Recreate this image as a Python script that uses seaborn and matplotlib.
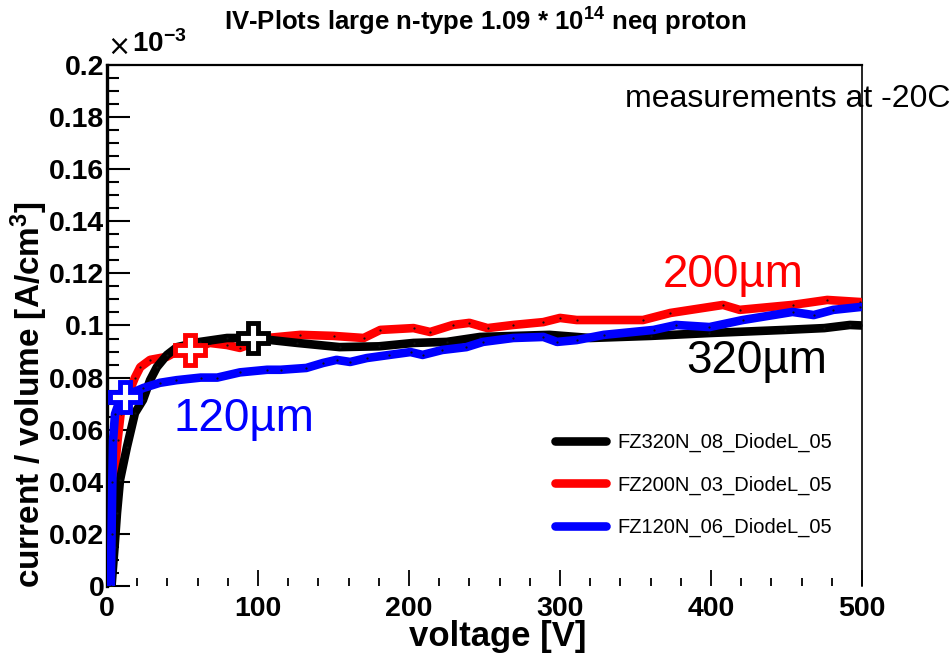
import matplotlib
matplotlib.use("Agg")
import matplotlib.pyplot as plt
from matplotlib.lines import Line2D
from matplotlib.ticker import MultipleLocator, FixedFormatter, FixedLocator
import numpy as np
import pandas as pd
import seaborn as sns

# ---- measured IV data (current / volume in units of 1e-3 A/cm^3) ----
v_320 = [3, 5, 6.6, 8.6, 13.2, 18.5, 23.8, 28.5, 33, 39.7, 46.4, 61.6, 79.5, 96,
         126, 154, 180, 203, 225, 247, 270, 293, 320, 360, 399, 449, 475, 492, 500]
i_320 = [0.0, 0.015, 0.028, 0.0407, 0.0534, 0.0664, 0.0714, 0.079, 0.084, 0.0887,
         0.0917, 0.0937, 0.0952, 0.0952, 0.0933, 0.0917, 0.092, 0.0933, 0.0937,
         0.0956, 0.096, 0.0964, 0.0952, 0.096, 0.0971, 0.0983, 0.099, 0.1002, 0.1]

v_200 = [2, 2.6, 4, 4.6, 7, 9, 12, 15, 18.5, 22, 28.5, 39.7, 46, 55, 68, 79.5, 88,
         106, 128, 150, 170, 181, 203, 214, 229, 240, 252, 269, 289, 300, 311, 355,
         373, 408, 419, 454, 477, 499]
i_200 = [0.0, 0.01, 0.0226, 0.0407, 0.056, 0.066, 0.071, 0.075, 0.080, 0.084,
         0.0868, 0.088, 0.090, 0.0906, 0.0933, 0.0925, 0.0914, 0.0952, 0.0964,
         0.096, 0.0952, 0.0983, 0.099, 0.0975, 0.1002, 0.101, 0.099, 0.1002,
         0.1013, 0.1029, 0.1021, 0.1021, 0.1048, 0.1079, 0.106, 0.1079, 0.1098,
         0.109]

v_120 = [2.5, 3, 3.5, 4, 5.3, 8, 12, 18, 24, 35, 46, 62, 73, 88, 106, 115, 132,
         143, 152, 161, 172, 187, 201, 209, 222, 238, 249, 269, 289, 298, 311, 329,
         362, 377, 399, 421, 454, 468, 481, 499]
i_120 = [0.0, 0.02, 0.04, 0.056, 0.066, 0.0705, 0.0726, 0.0745, 0.076, 0.078,
         0.079, 0.080, 0.080, 0.082, 0.083, 0.083, 0.0837, 0.0856, 0.0868, 0.086,
         0.0875, 0.0887, 0.0898, 0.0887, 0.0906, 0.0917, 0.0937, 0.0952, 0.0956,
         0.0937, 0.0944, 0.0964, 0.0983, 0.1002, 0.0994, 0.1021, 0.1052, 0.104,
         0.106, 0.1071]

sensors = ["FZ320N_08_DiodeL_05", "FZ200N_03_DiodeL_05", "FZ120N_06_DiodeL_05"]
thickness_labels = ["320µm", "200µm", "120µm"]
colors = ["#000000", "#ff0000", "#0000ff"]

# full-depletion markers
dep_v = [96.7, 55, 12]
dep_i = [0.0952, 0.0906, 0.0726]

x_ticks = [0, 100, 200, 300, 400, 500]
y_ticks = [0, 0.02, 0.04, 0.06, 0.08, 0.1, 0.12, 0.14, 0.16, 0.18, 0.2]
y_tick_labels = ["0", "0.02", "0.04", "0.06", "0.08", "0.1", "0.12", "0.14",
                 "0.16", "0.18", "0.2"]

df = pd.concat([
    pd.DataFrame({"voltage": v_320, "current": i_320, "sensor": sensors[0]}),
    pd.DataFrame({"voltage": v_200, "current": i_200, "sensor": sensors[1]}),
    pd.DataFrame({"voltage": v_120, "current": i_120, "sensor": sensors[2]}),
], ignore_index=True)

sns.set_style("ticks")
plt.rcParams["font.family"] = ["Liberation Sans", "DejaVu Sans"]
plt.rcParams["mathtext.fontset"] = "custom"
plt.rcParams["mathtext.rm"] = "Liberation Sans"
plt.rcParams["mathtext.bf"] = "Liberation Sans:bold"
plt.rcParams["mathtext.it"] = "Liberation Sans:italic"
for key in ["text.color", "axes.labelcolor", "xtick.color", "ytick.color",
            "axes.edgecolor"]:
    plt.rcParams[key] = "black"

fig = plt.figure(figsize=(9.53, 6.53), dpi=100)
ax = fig.add_axes([0.1123, 0.1026, 0.7922, 0.7979])

palette = dict(zip(sensors, colors))
# draw order: red, black, blue
for s in [sensors[1], sensors[0], sensors[2]]:
    sns.lineplot(data=df[df["sensor"] == s], x="voltage", y="current",
                 color=palette[s], estimator=None, sort=False, lw=6.2,
                 marker="o", ms=1.6, mfc="#111111", mec="#111111", mew=0,
                 legend=False, ax=ax, zorder=3)

for vx, iy, c in zip(dep_v, dep_i, colors):
    ax.plot([vx], [iy], marker="P", ms=22, mfc="white", mec=c, mew=3.5,
            ls="none", zorder=6)

ax.set_xlim(0, 500)
ax.set_ylim(0, 0.2)

ax.xaxis.set_major_locator(FixedLocator(x_ticks))
ax.xaxis.set_minor_locator(MultipleLocator(20))
ax.yaxis.set_major_locator(FixedLocator(y_ticks))
ax.yaxis.set_major_formatter(FixedFormatter(y_tick_labels))
ax.yaxis.set_minor_locator(MultipleLocator(0.005))

ax.tick_params(axis="y", which="major", direction="in", length=16.5, width=1.5,
               labelsize=20.5, pad=2)
ax.tick_params(axis="y", which="minor", direction="in", length=8.6, width=1.5)
ax.tick_params(axis="x", which="major", direction="in", length=11.5, width=1.3,
               labelsize=20.5, pad=7)
ax.tick_params(axis="x", which="minor", direction="in", length=5.5, width=1.3)
for lab in ax.get_xticklabels() + ax.get_yticklabels():
    lab.set_fontweight("bold")

ax.spines["left"].set_linewidth(2.4)
ax.spines["top"].set_linewidth(1.6)
ax.spines["right"].set_linewidth(1.2)
ax.spines["bottom"].set_visible(False)

ax.set_xlabel("voltage [V]", fontsize=25, fontweight="bold", labelpad=0)
ax.xaxis.set_label_coords(0.518, -0.066)
ax.set_ylabel(r"current / volume [A/cm$^{\mathbf{3}}$]", fontsize=24,
              fontweight="bold")
ax.yaxis.set_label_coords(-0.076, 0.367)

fig.text(0.509, 0.967, r"IV-Plots large n-type 1.09 * 10$^{\mathbf{14}}$ neq proton",
         ha="center", va="center", fontsize=18.5, fontweight="bold")
# axis multiplier above the y axis
fig.text(0.112, 0.9275, "×", ha="left", va="center", fontsize=20,
         family=["DejaVu Sans"])
fig.text(0.138, 0.932, r"$\mathbf{10^{-3}}$", ha="left", va="center",
         fontsize=20)
fig.text(0.997, 0.848, "measurements at -20C", ha="right", va="center",
         fontsize=23)

# thickness annotations
ax.text(415, 0.1195, thickness_labels[1], color=colors[1], fontsize=33,
        ha="center", va="center")
ax.text(430, 0.0865, thickness_labels[0], color=colors[0], fontsize=33,
        ha="center", va="center")
ax.text(91, 0.064, thickness_labels[2], color=colors[2], fontsize=33,
        ha="center", va="center")

handles = [Line2D([0], [0], color=c, lw=6.2) for c in colors]
leg = ax.legend(handles, sensors, loc="center left",
                bbox_to_anchor=(0.593, 0.194), frameon=False, fontsize=14.5,
                handlelength=2.55, handletextpad=0.55, labelspacing=1.15,
                borderaxespad=0, borderpad=0)

fig.savefig("out.png", dpi=100)
